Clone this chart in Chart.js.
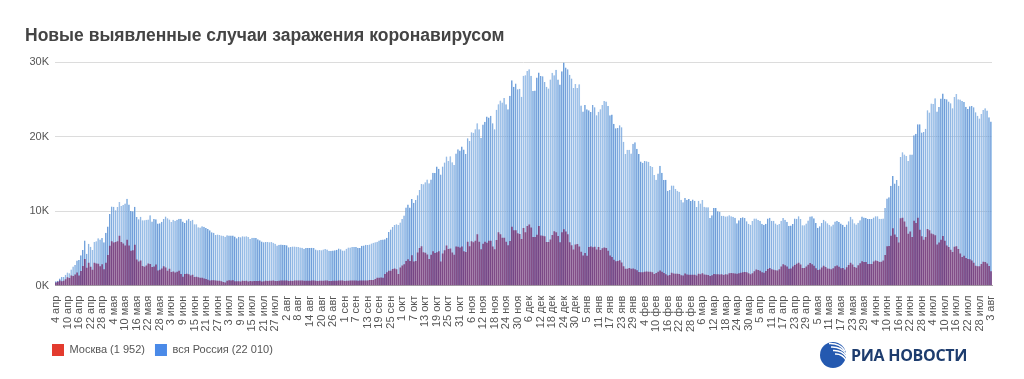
<!DOCTYPE html>
<html lang="ru">
  <head>
    <meta charset="utf-8" />
    <title>Новые выявленные случаи заражения коронавирусом</title>
    <style>
      * {
        margin: 0;
        padding: 0;
      }
      body {
        width: 1024px;
        height: 379px;
        overflow: hidden;
        position: relative;
        background: #fff;
        font-family: Arial, "Liberation Sans", sans-serif;
      }
      .title {
        position: absolute;
        left: 25px;
        top: 25px;
        font-size: 17.5px;
        font-weight: bold;
        color: #444;
      }
      .chartBox {
        position: absolute;
        left: 0;
        top: 0;
        width: 1024px;
        height: 379px;
      }
      .logo {
        position: absolute;
        left: 818px;
        top: 340px;
        display: flex;
        align-items: center;
      }
      .logo span {
        font: bold 16px "Open Sans", Arial, sans-serif;
        color: #1d3c6e;
        margin-left: 3px;
        letter-spacing: -0.3px;
      }
    </style>
  </head>
  <body>
    <div class="chartBox"><canvas id="myChart"></canvas></div>
    <div class="title">Новые выявленные случаи заражения коронавирусом</div>
    <div class="logo">
      <svg width="30" height="30" viewBox="0 0 30 30">
        <circle cx="15" cy="15" r="13" fill="#2459b0" />
        <path d="M11 3.5 Q22 3 27 11" stroke="#fff" stroke-width="1.4" fill="none" />
        <path d="M13 7 Q23 6.5 28 14" stroke="#fff" stroke-width="1.4" fill="none" />
        <path d="M15 10.5 Q24 10 28.5 17" stroke="#fff" stroke-width="1.4" fill="none" />
        <path d="M17 14 Q24 13.5 28 20" stroke="#fff" stroke-width="1.4" fill="none" />
      </svg>
      <span>РИА НОВОСТИ</span>
    </div>

    <script src="https://cdn.jsdelivr.net/npm/chart.js"></script>
    <script>
      // daily new cases, 4 Apr 2020 .. 3 Aug 2021
      const russia = [
        // апр 2020 (с 4-го)
        582, 658, 954, 1154, 1175, 1459, 1786, 1667, 2186, 2558, 2774, 3388, 3448, 4070, 4785, 6060, 4268, 5642, 5236, 4774, 5849, 5966, 6361, 6198, 6411, 5841, 7099,
        // май
        7933, 9623, 10633, 10581, 10102, 10559, 11231, 10699, 10817, 11012, 11656, 10899, 10028, 9974, 10598, 9200, 8926, 9263, 8764, 8764, 8849, 8894, 9434, 8599, 8946, 8915, 8338, 8371, 8572, 8952, 9268,
        // июн
        9035, 8863, 8536, 8831, 8726, 8855, 8984, 8985, 8595, 8404, 8779, 8987, 8706, 8835, 8246, 8248, 7843, 7790, 7972, 7889, 7728, 7600, 7425, 7176, 7113, 6800, 6852, 6791, 6719, 6693,
        // июл
        6556, 6760, 6718, 6736, 6736, 6611, 6368, 6562, 6509, 6635, 6611, 6615, 6537, 6248, 6422, 6428, 6406, 6234, 6109, 5940, 5842, 5862, 5848, 5811, 5871, 5765, 5635, 5395, 5475, 5509, 5482,
        // авг
        5462, 5427, 5159, 5204, 5267, 5241, 5212, 5189, 5118, 5102, 4945, 5057, 5065, 5061, 5081, 5061, 4839, 4748, 4790, 4767, 4870, 4921, 4852, 4696, 4676, 4711, 4741, 4829, 4980, 4897, 4729,
        // сен
        4729, 4952, 5110, 5125, 5205, 5195, 5185, 5099, 5063, 5363, 5406, 5488, 5449, 5509, 5670, 5762, 5815, 5905, 6065, 6148, 6196, 6215, 6431, 7212, 7523, 7867, 8135, 8232, 8135, 8481,
        // окт
        8945, 9412, 10499, 10888, 10499, 11615, 11115, 11493, 12126, 12846, 13634, 13592, 13868, 14231, 13754, 14231, 15150, 15099, 15982, 15700, 14922, 15971, 16521, 17340, 16710, 17347, 16550, 16202, 17717, 18283, 18140,
        // ноя
        18665, 18257, 17648, 19768, 19404, 20582, 20498, 20977, 21798, 20977, 19851, 21608, 21983, 22702, 22572, 22778, 21798, 20985, 23610, 24318, 24822, 24581, 25173, 24326, 23675, 25487, 27543, 26683, 27100, 26338,
        // дек
        26402, 25345, 28145, 28209, 28782, 29039, 28142, 26097, 26190, 27927, 28585, 28137, 28080, 27328, 26689, 26431, 27656, 28552, 28209, 28948, 27664, 26974, 28776, 29935, 29258, 29018, 28284, 27787, 26513, 27039, 26513,
        // янв 2021
        27029, 24150, 23351, 24246, 23652, 23541, 23309, 24217, 23920, 22851, 23315, 23652, 24217, 24763, 24715, 24092, 22857, 22946, 21734, 21127, 21152, 21513, 21266, 19290, 17648, 18241, 18241, 17741, 19032, 19238, 18359,
        // фев
        17648, 16643, 16474, 16714, 16688, 16627, 16048, 15916, 14861, 14207, 15038, 16075, 15150, 14185, 14207, 12742, 12828, 13433, 13447, 12953, 12742, 12604, 11534, 11198, 11749, 11534, 11630, 11359,
        // мар
        11571, 11385, 10565, 11385, 11024, 11495, 10595, 10535, 10513, 9079, 9437, 10409, 10410, 9980, 9908, 9393, 9393, 9286, 9299, 9445, 9299, 9232, 9114, 8369, 8769, 9073, 9167, 9088, 8646, 8320, 8162,
        // апр
        8672, 9016, 9024, 8806, 8705, 8294, 8173, 8304, 8996, 9109, 8702, 8711, 8328, 8173, 8271, 8704, 9092, 8835, 8589, 8053, 8061, 8271, 8998, 8989, 9321, 8946, 8114, 8095, 8336, 8731,
        // май
        9270, 9328, 9035, 8419, 7770, 7975, 8419, 8857, 8659, 8380, 8165, 7975, 8217, 8621, 8706, 8554, 8329, 8163, 7920, 8217, 8632, 9252, 8926, 8371, 8217, 8457, 8788, 9270, 9145, 9063, 8951,
        // июн
        8947, 8947, 9145, 9301, 9328, 8983, 8985, 9012, 10407, 11699, 11869, 13397, 14723, 13721, 14185, 13397, 17262, 17906, 17611, 17378, 16715, 17594, 17611, 20182, 20393, 21665, 21650, 20538, 20616, 21042,
        // июл
        23543, 23218, 24439, 24353, 25142, 23378, 23962, 25116, 25766, 25082, 25018, 24702, 24471, 23811, 25293, 25704, 25018, 24959, 24771, 24633, 24006, 23704, 24072, 24108, 23947, 23270, 22804, 22420, 23032, 23564, 23807,
        // авг
        23508, 22589, 22010,
      ];

      const moscow = [
        // апр 2020 (с 4-го)
        434, 536, 697, 591, 660, 857, 1124, 1030, 1355, 1306, 1489, 1774, 1370, 1959, 2649, 3570, 2412, 3083, 2548, 2135, 3083, 2971, 2957, 2612, 2871, 2220, 3093,
        // май
        4100, 5358, 5948, 5795, 5858, 5948, 6703, 5846, 5667, 5392, 6169, 5392, 4703, 4748, 5505, 3505, 3238, 3363, 2631, 2545, 2699, 2988, 2913, 2516, 2570, 2830, 2054, 2140, 2297, 2595, 2444,
        // июн
        2014, 2286, 1842, 1895, 1765, 1855, 2001, 1572, 1195, 1572, 1588, 1546, 1359, 1453, 1167, 1195, 1139, 1051, 1068, 977, 884, 802, 694, 729, 717, 691, 672, 655, 607, 509,
        // июл
        445, 655, 718, 686, 717, 590, 606, 599, 564, 660, 634, 668, 552, 645, 588, 626, 634, 625, 674, 578, 610, 667, 636, 650, 672, 688, 620, 634, 651, 690, 683,
        // авг
        685, 694, 644, 653, 638, 682, 686, 686, 697, 691, 649, 658, 668, 678, 691, 682, 655, 615, 651, 666, 680, 687, 682, 642, 638, 652, 659, 669, 681, 696, 691,
        // сен
        621, 654, 676, 686, 691, 697, 695, 650, 683, 681, 698, 711, 712, 765, 762, 778, 896, 1050, 1064, 1086, 1056, 1560, 1792, 2016, 2015, 2224, 2309, 2217, 1560, 2424,
        // окт
        2704, 2882, 3327, 3537, 3327, 4082, 3229, 3324, 4460, 5068, 5287, 4489, 4409, 4188, 3566, 4152, 4610, 4371, 4501, 4610, 3229, 4318, 4753, 5376, 4935, 4995, 4455, 4150, 5257, 5224, 5130,
        // ноя
        5261, 4616, 4530, 5902, 5299, 5953, 5822, 6024, 6897, 5902, 4872, 5620, 5882, 5765, 6014, 6034, 5255, 4901, 6128, 7168, 6902, 6427, 6438, 5884, 5425, 5994, 7918, 7425, 7429, 7037,
        // дек
        6931, 6252, 7750, 7168, 7993, 8203, 7797, 6525, 6525, 6848, 7993, 6723, 6709, 6627, 5874, 5850, 6186, 6790, 7289, 7167, 6652, 5816, 7178, 7570, 7255, 6898, 5839, 5433, 4838, 5513, 5589,
        // янв 2021
        5257, 4543, 4036, 4385, 4020, 5200, 5257, 5147, 5225, 4851, 5196, 4799, 5028, 5119, 5040, 4671, 4041, 3861, 3476, 3268, 3315, 3421, 3108, 2610, 2258, 2257, 2390, 2289, 2294, 2205, 2056,
        // фев
        1825, 1798, 1805, 1857, 1900, 1865, 1865, 1796, 1568, 1711, 1860, 2054, 1861, 1715, 1527, 1376, 1441, 1725, 1630, 1616, 1593, 1578, 1407, 1362, 1624, 1509, 1470, 1464,
        // мар
        1461, 1481, 1369, 1605, 1549, 1654, 1503, 1462, 1451, 1306, 1416, 1560, 1538, 1535, 1513, 1525, 1433, 1536, 1513, 1655, 1695, 1670, 1639, 1601, 1660, 1727, 1797, 1832, 1794, 1660, 1532,
        // апр
        1678, 1929, 2175, 2099, 1988, 1798, 1731, 1969, 2247, 2387, 2205, 2144, 2080, 2043, 2203, 2563, 2869, 2735, 2580, 2257, 2305, 2582, 2791, 2930, 3067, 2848, 2383, 2363, 2567, 2814,
        // май
        3044, 2890, 2689, 2338, 2116, 2180, 2430, 2664, 2492, 2318, 2259, 2196, 2329, 2605, 2699, 2538, 2349, 2370, 2167, 2467, 2779, 3061, 2855, 2513, 2418, 2741, 3021, 3263, 3180, 3184, 2913,
        // июн
        2898, 2925, 3260, 3379, 3327, 3185, 3214, 3368, 4124, 5301, 5319, 6701, 7704, 6858, 6534, 5782, 9056, 9120, 8598, 7916, 6976, 7272, 6534, 8719, 8397, 9120, 7490, 6627, 6155, 6534,
        // июл
        7597, 7446, 7000, 6915, 6780, 5511, 5782, 6174, 6681, 6034, 5399, 5183, 4806, 4524, 5218, 5288, 4919, 4327, 3841, 4024, 3728, 3565, 3545, 3363, 3092, 2690, 2617, 2604, 2901, 3221, 3179,
        // авг
        2987, 2632, 1952,
      ];

      const monthsRu = ["янв", "фев", "мар", "апр", "мая", "июн", "июл", "авг", "сен", "окт", "ноя", "дек"];
      const seriesNames = ["Москва (1 952)", "вся Россия (22 010)"];
      const legendColors = ["#e33b2e", "#4a8ae8"];

      // categories: one label per day starting 4 Apr 2020
      const labels = [];
      const day = new Date(2020, 3, 4);
      for (let i = 0; i < russia.length; i++) {
        labels.push(day.getDate() + " " + monthsRu[day.getMonth()]);
        day.setDate(day.getDate() + 1);
      }

      const data = {
        labels: labels,
        datasets: [
          {
            label: seriesNames[0],
            data: moscow,
            backgroundColor: "rgba(120,30,95,0.7)",
            borderWidth: 0,
          },
          {
            label: seriesNames[1],
            data: russia,
            backgroundColor: "#8fbbe7",
            borderColor: "#5087d0",
            borderWidth: { left: 1, right: 0, top: 0, bottom: 0 },
          },
        ],
      };

      // push the legend to the right so it starts under the plot
      const legendShift = {
        id: "legendShift",
        afterLayout(chart) {
          chart.legend.left += 17;
          chart.legend.right += 17;
        },
      };

      const config = {
        type: "bar",
        data: data,
        options: {
          responsive: true,
          maintainAspectRatio: false,
          animation: false,
          layout: {
            padding: { left: 25, right: 32, top: 62, bottom: 13 },
          },
          datasets: {
            bar: {
              grouped: false,
              categoryPercentage: 0.9,
              barPercentage: 1,
            },
          },
          scales: {
            x: {
              grid: { display: false },
              border: { color: "#aaa" },
              ticks: {
                autoSkip: false,
                minRotation: 90,
                maxRotation: 90,
                padding: 2,
                color: "#555",
                font: { size: 11, family: "Arial" },
                callback: (v, i) => (i % 6 === 0 ? labels[i] : ""),
              },
            },
            y: {
              min: 0,
              max: 30000,
              border: { display: false },
              grid: { color: "#dcdcdc", drawTicks: false },
              ticks: {
                stepSize: 10000,
                padding: 6,
                color: "#555",
                font: { size: 11, family: "Arial" },
                callback: (v) => v / 1000 + "K",
              },
              afterFit: (scale) => {
                scale.width = 30;
              },
            },
          },
          plugins: {
            tooltip: { enabled: false },
            legend: {
              position: "bottom",
              align: "start",
              labels: {
                boxWidth: 12,
                boxHeight: 12,
                padding: 10,
                color: "#555",
                font: { size: 11, family: "Arial" },
                generateLabels: (chart) =>
                  Chart.defaults.plugins.legend.labels
                    .generateLabels(chart)
                    .map((item, i) => ({
                      ...item,
                      fillStyle: legendColors[i],
                      strokeStyle: legendColors[i],
                      lineWidth: 0,
                    })),
              },
            },
          },
        },
        plugins: [legendShift],
      };

      const ctx = document.getElementById("myChart");
      const myChart = new Chart(ctx, config);
    </script>
  </body>
</html>
